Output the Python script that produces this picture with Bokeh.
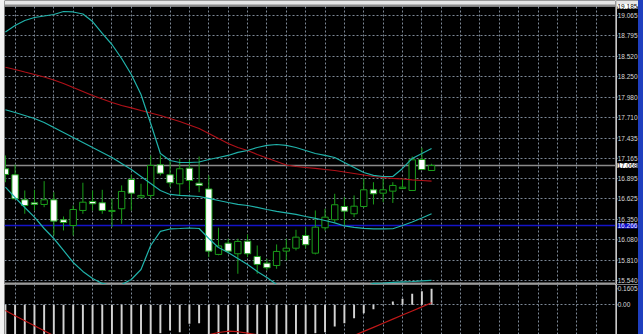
from bokeh.plotting import figure
from bokeh.models import Range1d, FixedTicker, Div, ColumnDataSource
from bokeh.core.properties import value
from bokeh.layouts import column, row
from bokeh.embed import file_html
from bokeh.resources import INLINE

# ---------------- data ----------------
open_ = [17.026, 16.946, 16.613, 16.573, 16.551, 16.613, 16.347, 16.271, 16.471, 16.591,
         16.573, 16.458, 16.494, 16.883, 16.648, 16.671, 17.079, 16.946, 16.826, 17.034,
         16.834, 16.757, 15.886, 16.036, 15.895, 16.063, 15.859, 15.770, 15.739, 15.930,
         15.969, 16.138, 15.903, 16.241, 16.347, 16.524, 16.427, 16.524, 16.746, 16.701,
         16.728, 16.764, 16.737, 17.149, 17.003]
high = [17.203, 17.079, 16.737, 16.746, 16.861, 16.714, 16.391, 16.537, 16.840, 16.737,
        16.746, 16.627, 16.804, 16.946, 16.826, 17.203, 17.203, 17.136, 17.159, 17.145,
        17.189, 16.937, 16.241, 16.095, 16.095, 16.152, 16.005, 15.828, 16.019, 16.095,
        16.214, 16.249, 16.471, 16.494, 16.693, 16.648, 16.671, 16.893, 16.847, 16.893,
        16.847, 16.901, 17.189, 17.305, 17.092]
low = [16.847, 16.620, 16.427, 16.471, 16.515, 16.138, 16.205, 16.138, 16.427, 16.471,
       16.427, 16.249, 16.294, 16.471, 16.645, 16.627, 16.937, 16.781, 16.671, 16.737,
       16.714, 15.850, 15.875, 15.899, 15.629, 15.850, 15.629, 15.673, 15.695, 15.806,
       15.939, 15.966, 15.886, 16.205, 16.315, 16.271, 16.382, 16.507, 16.551, 16.581,
       16.571, 16.760, 16.735, 17.014, 17.000]
close = [16.950, 16.627, 16.537, 16.551, 16.613, 16.329, 16.311, 16.484, 16.581, 16.560,
         16.471, 16.471, 16.724, 16.701, 16.671, 17.070, 16.967, 16.840, 17.026, 16.870,
         16.804, 15.930, 15.999, 15.930, 16.059, 15.895, 15.753, 15.709, 15.926, 15.969,
         16.116, 16.015, 16.249, 16.382, 16.547, 16.462, 16.528, 16.746, 16.693, 16.746,
         16.804, 16.781, 17.145, 17.016, 17.068]

upper_band = [18.846, 18.932, 18.999, 19.038, 19.058, 19.078, 19.118, 19.112, 19.085, 18.985,
              18.826, 18.679, 18.493, 18.280, 18.014, 17.628, 17.229, 17.136, 17.109, 17.109,
              17.116, 17.149, 17.176, 17.203, 17.243, 17.269, 17.309, 17.336, 17.349, 17.336,
              17.309, 17.269, 17.229, 17.203, 17.176, 17.109, 17.043, 16.976, 16.937, 16.923,
              16.923, 17.030, 17.163, 17.229, 17.296]
middle_band = [17.811, 17.775, 17.735, 17.695, 17.642, 17.575, 17.509, 17.442, 17.376, 17.309,
               17.243, 17.176, 17.096, 17.016, 16.923, 16.830, 16.737, 16.684, 16.671, 16.664,
               16.657, 16.631, 16.604, 16.577, 16.551, 16.537, 16.511, 16.484, 16.458, 16.438,
               16.418, 16.391, 16.365, 16.338, 16.305, 16.265, 16.245, 16.232, 16.225, 16.225,
               16.228, 16.271, 16.318, 16.371, 16.427]
lower_band = [16.781, 16.644, 16.511, 16.382, 16.231, 16.098, 15.939, 15.779, 15.660, 15.566,
              15.500, 15.473, 15.486, 15.553, 15.686, 16.005, 16.192, 16.225, 16.231, 16.238,
              16.231, 16.098, 15.979, 15.912, 15.832, 15.753, 15.660, 15.580, 15.486, 15.407,
              15.354, 15.314, 15.314, 15.327, 15.354, 15.393, 15.420, 15.460, 15.500, 15.506,
              15.513, 15.520, 15.526, 15.533, 15.540]
ma_red = [18.377, 18.347, 18.313, 18.280, 18.247, 18.207, 18.160, 18.107, 18.054, 18.001,
          17.954, 17.908, 17.868, 17.835, 17.801, 17.768, 17.735, 17.695, 17.655, 17.608,
          17.562, 17.495, 17.429, 17.362, 17.309, 17.269, 17.216, 17.169, 17.123, 17.076,
          17.056, 17.043, 17.030, 17.016, 17.003, 16.983, 16.963, 16.943, 16.923, 16.910,
          16.897, 16.890, 16.877, 16.870, 16.861]

macd_hist = [-0.42, -0.44, -0.46, -0.47, -0.48, -0.49, -0.49, -0.48, -0.46, -0.44,
             -0.42, -0.40, -0.38, -0.36, -0.34, -0.31, -0.285, -0.258, -0.275, -0.19,
             -0.185, -0.31, -0.36, -0.40, -0.43, -0.46, -0.49, -0.50, -0.48, -0.44,
             -0.38, -0.31, -0.285, -0.275, -0.218, -0.185, -0.134, -0.084, -0.044, -0.004,
             0.033, 0.060, 0.110, 0.136, 0.1605]
macd_signal = [-0.057, -0.11, -0.16, -0.21, -0.26, -0.31, -0.35, -0.38, -0.40, -0.42,
               -0.43, -0.43, -0.42, -0.41, -0.40, -0.38, -0.36, -0.35, -0.34, -0.33,
               -0.32, -0.30, -0.278, -0.265, -0.27, -0.285, -0.30, -0.32, -0.34, -0.36,
               -0.37, -0.38, -0.38, -0.37, -0.36, -0.34, -0.308, -0.267, -0.226, -0.185,
               -0.144, -0.103, -0.062, -0.021, 0.020]

price_ticks = [19.065, 18.795, 18.520, 18.250, 17.980, 17.710, 17.435, 17.165,
               16.895, 16.625, 16.350, 16.080, 15.810, 15.540]
price_tick_labels = ["19.065", "18.795", "18.520", "18.250", "17.980", "17.710", "17.435",
                     "17.165", "16.895", "16.625", "16.350", "16.080", "15.810", "15.540"]
macd_ticks = [0.1605, 0.0]
macd_tick_labels = ["0.1605", "0.00"]

chart_top = 19.185          # top price of the chart area
window_top = 19.2646        # top of the window (title strip above the chart)
strip_line = 19.2114        # lower edge of the light title strip
top_price_label = "19.185"
bid_price = 17.068
bid_label = "17.068"
hline_price = 16.266
hline_label = "16.266"
separator_price = 15.500
price_bottom = 15.486
macd_top = 0.2036
macd_bottom = -0.2979

x = list(range(len(open_)))

# ---------------- styles ----------------
GREEN = "#1a9e1a"
CYAN = "#20b2aa"
RED = "#b01018"
GRID = "#7d8896"
AXIS = "#c8c8c8"
LABEL = "#d8d8d8"
FONT = "Liberation Sans"
FS = "6.5px"

x_range = Range1d(-0.093, 62.99)
price_range = Range1d(price_bottom, window_top)
macd_range = Range1d(macd_bottom, macd_top)
strip_range = Range1d(0, 23)


def chart_fig(h, yr):
    p = figure(width=611, height=h, x_range=x_range, y_range=yr,
               output_backend="svg", toolbar_location=None,
               x_axis_location=None, y_axis_location=None,
               min_border_left=0, min_border_right=0, min_border_top=0, min_border_bottom=0,
               background_fill_color="black", border_fill_color="black",
               outline_line_color=None)
    p.xgrid.ticker = FixedTicker(ticks=list(range(1, 63, 2)))
    for g in (p.xgrid[0], p.ygrid[0]):
        g.grid_line_color = GRID
        g.grid_line_dash = "2 2"
        g.grid_line_width = 1
    return p


def scale_fig(h, yr, ticks, labels):
    a = figure(width=23, height=h, x_range=strip_range, y_range=yr,
               output_backend="svg", toolbar_location=None,
               x_axis_location=None, y_axis_location=None,
               min_border_left=0, min_border_right=0, min_border_top=0, min_border_bottom=0,
               background_fill_color="black", border_fill_color="black",
               outline_line_color=None)
    a.xgrid.visible = False
    a.ygrid.visible = False
    a.vspan(x=[0.5], line_color=AXIS, line_width=1)
    a.segment(x0=[0.5] * len(ticks), x1=[2] * len(ticks), y0=ticks, y1=ticks,
              line_color=AXIS, line_width=1)
    a.text(x=[2.2] * len(ticks), y=ticks, text=labels, text_color=LABEL,
           text_font=value(FONT), text_font_size=FS,
           text_baseline="middle", text_align="left")
    return a


# ---------------- main price panel ----------------
p = chart_fig(284, price_range)
p.ygrid.ticker = FixedTicker(ticks=price_ticks)

p.hstrip(y0=[chart_top], y1=[window_top], fill_color="#e6e6e6", line_color=None)
p.hstrip(y0=[chart_top], y1=[strip_line], fill_color="#8c8c8c", line_color=None)
p.hspan(y=[bid_price], line_color="#8a8a8a", line_width=1.5)
p.hspan(y=[hline_price], line_color="#1414c8", line_width=1.5)
p.hspan(y=[separator_price], line_color="#9a9a9a", line_width=2)

src = ColumnDataSource(dict(
    x=x, high=high, low=low,
    top=[max(o, c) for o, c in zip(open_, close)],
    bottom=[min(o, c) for o, c in zip(open_, close)],
    fill=["black" if c > o else "white" for o, c in zip(open_, close)],
))
p.segment(x0="x", y0="low", x1="x", y1="high", source=src, line_color=GREEN, line_width=1)
p.vbar(x="x", width=0.66, top="top", bottom="bottom", source=src,
       fill_color="fill", line_color=GREEN, line_width=1)

p.line(x, ma_red, line_color=RED, line_width=1.2)
p.line(x, upper_band, line_color=CYAN, line_width=1.2)
p.line(x, middle_band, line_color=CYAN, line_width=1.2)
p.line(x, lower_band, line_color=CYAN, line_width=1.2)

# price scale strip
pa = scale_fig(284, price_range, price_ticks, price_tick_labels)
pa.hstrip(y0=[chart_top], y1=[window_top], fill_color="#e6e6e6", line_color=None, level="underlay")
pa.text(x=[2], y=[chart_top], text=[top_price_label], text_color="black",
        text_font=value(FONT), text_font_size=FS, text_baseline="middle", text_align="left",
        background_fill_color="white")
pa.text(x=[2], y=[bid_price], text=[bid_label], text_color="black",
        text_font=value(FONT), text_font_size=FS, text_baseline="middle", text_align="left",
        background_fill_color="white")
pa.text(x=[2], y=[hline_price], text=[hline_label], text_color="#e8e8ff",
        text_font=value(FONT), text_font_size=FS, text_baseline="middle", text_align="left",
        background_fill_color="#1010d0")

# ---------------- MACD panel ----------------
s = chart_fig(50, macd_range)
s.ygrid.ticker = FixedTicker(ticks=[0.0])
s.vbar(x=x, width=0.2, top=macd_hist, bottom=0, fill_color="#d4d4d4", line_color=None)
s.line(x, macd_signal, line_color="#c01818", line_width=1.2)

sa = scale_fig(50, macd_range, macd_ticks, macd_tick_labels)

# ---------------- window edges ----------------
left_div = Div(text="", width=4, height=334, margin=0,
               styles={"background-color": "#f2f2f2"})
right_div = Div(text="", width=5, height=334, margin=0,
                styles={"background-color": "#1f3fbf"})

layout = row(left_div, column(p, s, spacing=0), column(pa, sa, spacing=0), right_div, spacing=0)

open("out.html", "w").write(file_html(layout, INLINE))
